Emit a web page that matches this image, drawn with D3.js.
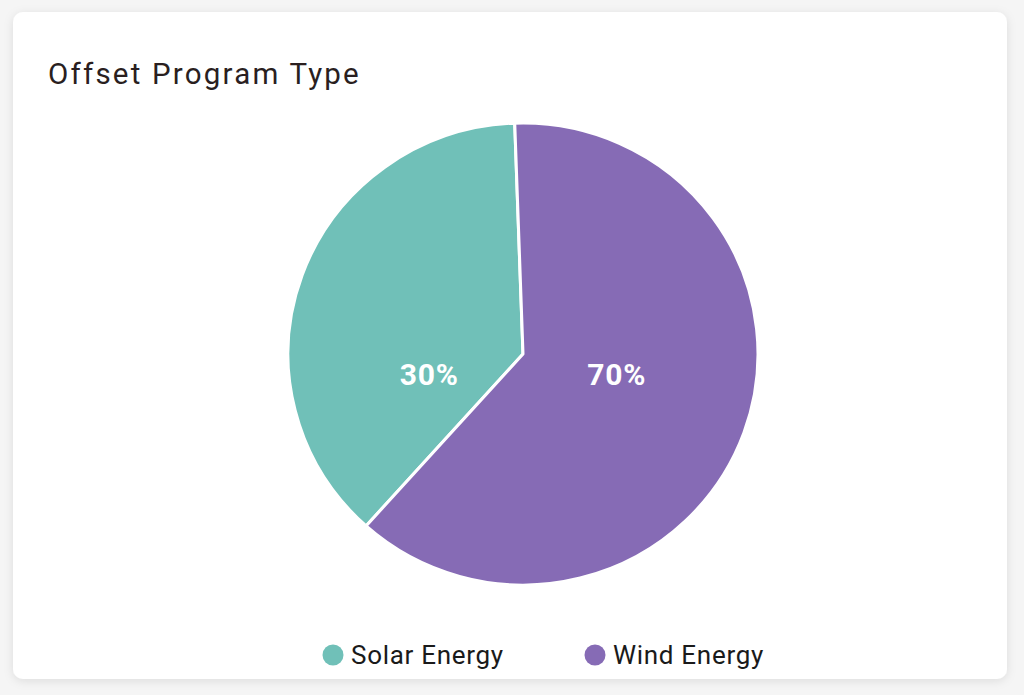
<!DOCTYPE html>
<html>
<head>
<meta charset="utf-8">
<script src="https://cdn.jsdelivr.net/npm/d3@7"></script>
<style>
  html, body { margin: 0; padding: 0; background: #f5f5f5; }
  svg { display: block; font-family: Roboto, "Noto Sans", sans-serif; }
</style>
</head>
<body>
<svg id="chart" width="1024" height="695"></svg>
<script>
// ---- data ----
const categories = ["Solar Energy", "Wind Energy"];
const sliceValues = [37.8, 62.2];          // slice sizes as drawn
const sliceLabels = ["30%", "70%"];        // labels shown on slices
const colors = ["#70c0b8", "#866bb5"];
const title = "Offset Program Type";

const svg = d3.select("#chart");
const defs = svg.append("defs");
const f = defs.append("filter").attr("id", "shadow").attr("x", "-5%").attr("y", "-5%").attr("width", "110%").attr("height", "110%");
f.append("feDropShadow").attr("dx", 0).attr("dy", 2).attr("stdDeviation", 5).attr("flood-color", "#000").attr("flood-opacity", 0.10);

// card
svg.append("rect").attr("x", 13).attr("y", 12).attr("width", 994).attr("height", 667)
  .attr("rx", 10).attr("fill", "#ffffff").attr("filter", "url(#shadow)");

// title
svg.append("text").attr("x", 48).attr("y", 84).attr("font-size", 29.5)
  .attr("letter-spacing", 2.2)
  .attr("fill", "#2a1f1f").text(title);

// pie
const cx = 523, cy = 354, r = 231, sx = 235 / 231;
const start = 221.9 * Math.PI / 180;
const pie = d3.pie().sort(null).startAngle(start).endAngle(start + 2 * Math.PI);
const arcs = pie(sliceValues);
const arc = d3.arc().innerRadius(0).outerRadius(r);
const g = svg.append("g").attr("transform", `translate(${cx},${cy}) scale(${sx},1)`);
g.selectAll("path").data(arcs).join("path")
  .attr("d", arc)
  .attr("fill", (d, i) => colors[i])
  .attr("stroke", "#ffffff").attr("stroke-width", 3).attr("stroke-linejoin", "round");

const labelArc = d3.arc().innerRadius(98).outerRadius(98);
svg.append("g").selectAll("text").data(arcs).join("text")
  .attr("x", d => cx + labelArc.centroid(d)[0] * sx)
  .attr("y", cy + 20)
  .attr("text-anchor", "middle").attr("dominant-baseline", "central")
  .attr("font-size", 30).attr("font-weight", 700).attr("fill", "#ffffff")
  .attr("letter-spacing", 0.8)
  .text((d, i) => sliceLabels[i]);

// legend
const legendX = [333, 595];
const lg = svg.append("g").selectAll("g").data(categories).join("g")
  .attr("transform", (d, i) => `translate(${legendX[i]},655)`);
lg.append("circle").attr("r", 10.5).attr("fill", (d, i) => colors[i]);
lg.append("text").attr("x", 18).attr("y", 8.5).attr("font-size", 26)
  .attr("letter-spacing", 0.7)
  .attr("fill", "#1a1a1a").text(d => d);
</script>
</body>
</html>
